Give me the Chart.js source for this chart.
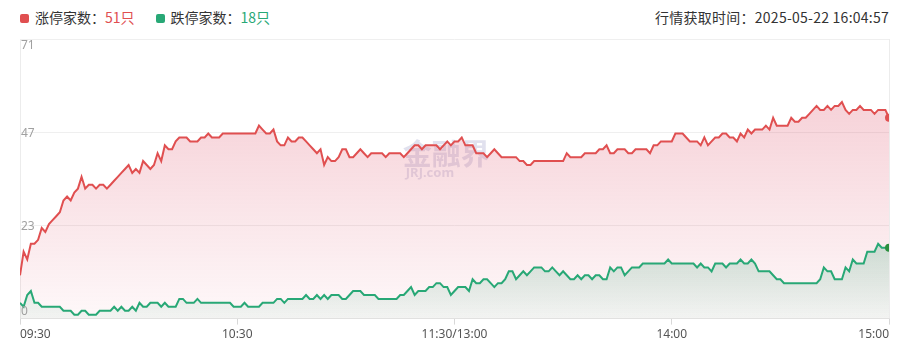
<!DOCTYPE html>
<html>
<head>
<meta charset="utf-8">
<script src="https://cdn.jsdelivr.net/npm/chart.js@4/dist/chart.umd.min.js"></script>
<style>
  html, body { margin: 0; padding: 0; background: #fff; }
  body { width: 910px; height: 357px; position: relative; overflow: hidden;
         font-family: "Noto Sans CJK SC", "Noto Sans", sans-serif; }
  #hdr-left { position: absolute; left: 20px; top: 7px; height: 20px; line-height: 20px;
              font-size: 14px; color: #333; white-space: nowrap; }
  #hdr-right { position: absolute; right: 21px; top: 7px; height: 20px; line-height: 20px;
               font-size: 14px; color: #333; white-space: nowrap; letter-spacing: 0.25px; }
  .sq { display: inline-block; width: 9px; height: 9px; border-radius: 2px; vertical-align: 0px; margin-right: 6px; }
  .item { display: inline-block; margin-right: 21px; }
  #wrap { position: absolute; left: 0; top: 0; width: 910px; height: 357px; }
</style>
</head>
<body>
<div id="hdr-left"></div>
<div id="hdr-right"></div>
<div id="wrap"><canvas id="c" width="910" height="357"></canvas></div>
<script>
// ---- data ----
const seriesNames = ['涨停家数', '跌停家数'];
const seriesColors = ['#e04f50', '#28a876'];
const quoteTime = '2025-05-22 16:04:57';

// minute categories: 09:30–11:30, 13:01–15:00
const times = [];
function pushRange(h0, m0, h1, m1) {
  for (let t = h0 * 60 + m0; t <= h1 * 60 + m1; t++) {
    const h = Math.floor(t / 60), m = t % 60;
    times.push(String(h).padStart(2, '0') + ':' + String(m).padStart(2, '0'));
  }
}
pushRange(9, 30, 11, 30);
pushRange(13, 1, 15, 0);

const tickIndex = [0, 60, 120, 180, 240];
const tickLabels = ['09:30', '10:30', '11:30/13:00', '14:00', '15:00'];
const yMax = 71;
const yTicks = [0, 71 / 3, 142 / 3, 71];

const limitUp = [
  11,17,15,19,19,20,23,22,24,25,26,27,30,31,30,32,33,36,33,34,
  34,33,34,34,33,34,35,36,37,38,39,37,38,37,40,39,38,39,42,40,
  44,43,43,45,46,46,46,45,45,45,46,46,47,46,46,46,47,47,47,47,
  47,47,47,47,47,47,49,48,47,47,48,45,44,44,46,45,45,46,46,45,
  44,43,42,43,39,41,40,40,41,43,43,41,41,42,43,42,41,42,42,42,
  42,41,42,42,42,42,41,42,43,44,44,43,44,44,44,44,43,44,45,44,
  45,45,46,44,44,44,42,42,42,41,42,43,42,41,41,41,41,41,40,40,
  39,39,40,40,40,40,40,40,40,40,40,42,41,41,41,41,42,42,42,42,
  43,43,44,42,42,43,43,43,42,42,43,43,43,43,42,44,44,45,45,45,
  45,47,47,47,46,45,45,45,44,46,44,45,46,46,47,47,46,46,45,47,
  46,48,47,48,48,48,49,48,51,49,49,49,49,51,50,50,51,51,52,53,
  54,53,53,54,53,54,54,55,53,52,53,53,54,53,53,53,52,53,53,53,
  51
];
const limitDown = [
  4,3,6,7,4,4,3,3,3,3,3,3,2,2,2,1,1,2,2,1,
  1,1,2,2,2,2,3,2,3,2,2,3,2,4,3,3,4,4,4,3,
  4,3,3,3,5,5,4,4,4,5,4,4,4,4,4,4,4,4,4,3,
  3,3,4,3,3,3,3,4,4,4,4,5,5,4,5,5,5,5,5,6,
  5,5,6,5,6,5,6,6,6,5,5,6,7,7,7,6,6,6,6,5,
  5,5,5,5,5,6,6,7,8,6,7,7,7,8,8,9,9,8,8,6,
  7,8,8,8,7,10,9,9,10,10,9,8,9,9,10,12,12,10,11,12,
  11,12,13,13,13,12,12,13,12,11,12,11,10,10,11,10,11,11,10,11,
  11,10,10,13,12,13,13,11,12,13,13,13,14,14,14,14,14,14,14,15,
  14,14,14,14,14,14,14,13,14,13,13,12,14,14,14,13,14,14,14,15,
  14,14,15,14,12,12,12,12,11,10,10,9,9,9,9,9,9,9,9,9,
  9,10,13,12,12,10,10,10,13,12,15,14,14,14,17,17,17,19,18,18,
  18
];

// ---- header ----
const last = [limitUp[limitUp.length - 1], limitDown[limitDown.length - 1]];
document.getElementById('hdr-left').innerHTML = seriesNames.map((n, i) =>
  '<span class="item"><span class="sq" style="background:' + seriesColors[i] + '"></span>' +
  n + '：<span style="color:' + seriesColors[i] + '">' + last[i] + '只</span></span>'
).join('');
document.getElementById('hdr-right').textContent = '行情获取时间：' + quoteTime;

// ---- helpers ----
function redFill(context) {
  const chart = context.chart; const area = chart.chartArea;
  if (!area) return 'rgba(225,85,105,0.15)';
  const g = chart.ctx.createLinearGradient(0, area.top, 0, area.bottom);
  g.addColorStop(0, 'rgba(222,80,105,0.32)');
  g.addColorStop(1, 'rgba(222,80,105,0.04)');
  return g;
}
function greenFill(context) {
  const chart = context.chart; const area = chart.chartArea;
  if (!area) return 'rgba(40,160,110,0.12)';
  const top = chart.scales.y.getPixelForValue(Math.max(...limitDown));
  const g = chart.ctx.createLinearGradient(0, top, 0, area.bottom);
  g.addColorStop(0, 'rgba(40,160,110,0.22)');
  g.addColorStop(1, 'rgba(40,160,110,0.05)');
  return g;
}
const lastIdx = times.length - 1;

const yLabelPlugin = {
  id: 'yLabels',
  afterDraw(chart) {
    const ctx = chart.ctx, y = chart.scales.y, area = chart.chartArea;
    ctx.save();
    ctx.font = '12px "Noto Sans", "DejaVu Sans", sans-serif';
    ctx.fillStyle = '#a0a0a0';
    ctx.textAlign = 'left';
    ctx.textBaseline = 'alphabetic';
    yTicks.forEach((v, i) => {
      const py = y.getPixelForValue(v);
      let by;
      if (i === yTicks.length - 1) by = py + 10;
      else if (i === 0) by = py - 4;
      else by = py + 4.5;
      ctx.fillText(String(Math.floor(v + 1e-9)), area.left + 1, by);
    });
    ctx.restore();
  }
};
const watermarkPlugin = {
  id: 'watermark',
  beforeDatasetsDraw(chart) {
    const ctx = chart.ctx;
    const x = chart.scales.x.getPixelForValue(106) - 1;
    const y = chart.scales.y.getPixelForValue(45.5);
    ctx.save();
    ctx.fillStyle = 'rgba(175,175,210,0.38)';
    ctx.textBaseline = 'top';
    ctx.font = 'bold 29px "Noto Sans CJK SC", sans-serif';
    ctx.fillText('金融界', x, y);
    ctx.font = 'bold 13px "Noto Sans", sans-serif';
    ctx.fillText('JRJ.com', x + 3, y + 27);
    ctx.restore();
  }
};

new Chart(document.getElementById('c'), {
  type: 'line',
  data: {
    labels: times,
    datasets: [
      {
        label: seriesNames[0], data: limitUp, order: 2,
        borderColor: seriesColors[0], borderWidth: 2, tension: 0,
        fill: 'origin', backgroundColor: redFill, clip: 0,
        pointRadius: c => c.dataIndex === lastIdx ? 4 : 0,
        pointBackgroundColor: '#e04f50', pointBorderWidth: 0
      },
      {
        label: seriesNames[1], data: limitDown, order: 1,
        borderColor: seriesColors[1], borderWidth: 2, tension: 0,
        fill: 'origin', backgroundColor: greenFill, clip: 0,
        pointRadius: c => c.dataIndex === lastIdx ? 4 : 0,
        pointBackgroundColor: '#2b8f3e', pointBorderWidth: 0
      }
    ]
  },
  options: {
    responsive: false,
    animation: false,
    events: [],
    layout: { padding: { left: 20, right: 21, top: 39, bottom: 12 } },
    plugins: { legend: { display: false }, tooltip: { enabled: false } },
    scales: {
      x: {
        type: 'category',
        offset: false,
        afterBuildTicks: s => { s.ticks = tickIndex.map(v => ({ value: v })); },
        ticks: {
          autoSkip: false, maxRotation: 0, align: 'inner', padding: 3,
          color: '#555', font: { size: 12, family: '"Noto Sans", "DejaVu Sans", sans-serif' },
          callback: (v, i) => tickLabels[i]
        },
        grid: {
          drawOnChartArea: true, drawTicks: true, tickLength: 6,
          color: c => (c.index === 0 || c.index === tickIndex.length - 1) ? '#ececec' : 'rgba(0,0,0,0)',
          tickColor: '#d8d8d8'
        },
        border: { display: true, color: '#e2e2e2' }
      },
      y: {
        min: 0, max: yMax,
        afterBuildTicks: s => { s.ticks = yTicks.map(v => ({ value: v })); },
        ticks: { display: false },
        grid: { color: '#efefef', drawTicks: false },
        border: { display: false }
      }
    }
  },
  plugins: [yLabelPlugin, watermarkPlugin]
});
</script>
</body>
</html>
